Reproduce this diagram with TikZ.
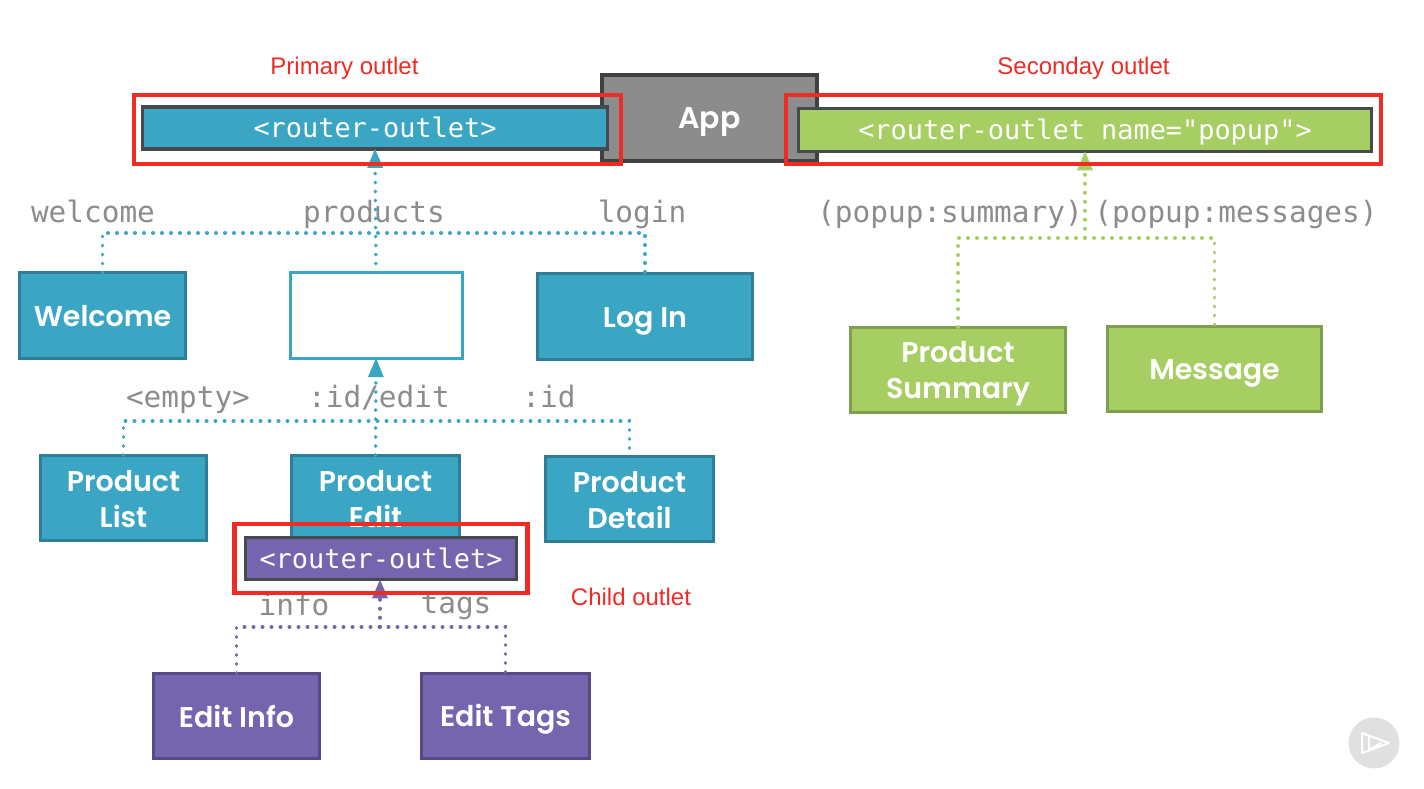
\documentclass[tikz,border=0pt]{standalone}
\usepackage{fontspec}
\usetikzlibrary{arrows}
\usetikzlibrary{positioning}
\newfontfamily\boxfont{Poppins}[UprightFont=* SemiBold]
\newfontfamily\codefont{DejaVu Sans Mono}
\newfontfamily\notefont{Liberation Sans}
\newcommand{\boxstrut}{\vrule width 0pt height 29pt depth 7pt\relax}
\newcommand{\twolines}[2]{\boxstrut #1\\#2\boxstrut}
\newcommand{\codestrut}{\vrule width 0pt height 26pt depth 7pt\relax}
\definecolor{tealfill}{HTML}{3AA6C4}
\definecolor{tealedge}{HTML}{2E7E98}
\definecolor{greenfill}{HTML}{A6CE63}
\definecolor{greenedge}{HTML}{7F9F4E}
\definecolor{purplefill}{HTML}{7465AE}
\definecolor{purpleedge}{HTML}{564A86}
\definecolor{outletedge}{HTML}{454A4E}
\definecolor{notered}{HTML}{EE2B24}
\definecolor{pathgray}{HTML}{8E8B8E}
\tikzset{
    node distance=100pt,
    every node/.append style={
        outer sep=0pt,
        inner sep=0pt
    },
    viewbox/.style={
        draw,
        line width=3pt,
        minimum height=85.5pt,
        minimum width=166.5pt,
        align=center,
        text=white,
        font=\boxfont\fontsize{28.5}{36}\selectfont
    },
    tealbox/.style={viewbox, fill=tealfill, draw=tealedge},
    greenbox/.style={viewbox, fill=greenfill, draw=greenedge, minimum width=214.5pt},
    purplebox/.style={viewbox, fill=purplefill, draw=purpleedge},
    outletbox/.style={
        draw=outletedge,
        line width=3.5pt,
        minimum height=42pt,
        text=white,
        font=\codefont\fontsize{26.9}{30}\selectfont,
        execute at begin node=\codestrut
    },
    pathlabel/.style={
        anchor=base,
        text=pathgray,
        font=\codefont\fontsize{29.4}{34}\selectfont
    },
    notelabel/.style={
        anchor=base,
        text=notered,
        font=\notefont\fontsize{24}{28}\selectfont
    },
    redframe/.style={
        draw=notered,
        line width=4.5pt
    },
    dotline/.style={
        line width=3.5pt,
        line cap=round,
        dash pattern=on 0.5pt off 8.5pt,
        >=triangle 45
    }
}

\begin{document}
\begin{tikzpicture}[x=1pt, y=-1pt]
    \useasboundingbox (0,0) rectangle (1424,788);

    % top row
    \node[draw=black!75, fill=black!45, line width=3.5pt, minimum width=215pt, minimum height=86pt,
        text=white, font=\boxfont\fontsize{30}{36}\selectfont] (app) at (709.5,118) {\boxstrut App};
    \node[outletbox, fill=tealfill, minimum width=465pt] (primary) at (375,128) {<router-outlet>};
    \node[outletbox, fill=greenfill, minimum width=573pt, minimum height=43pt] (secondary) at (1085,130) {<router-outlet name="popup">};

    % first level
    \node[tealbox] (welcome) at (102.5,315.5) {\boxstrut Welcome};
    \node[viewbox, fill=white, draw=tealfill, minimum width=172pt, right of=welcome, xshift=173.5pt] (products) {};
    \node[tealbox, minimum width=214.5pt, right of=products, xshift=169pt, yshift=-1pt] (login) {\boxstrut Log In};
    \node[greenbox] (summary) at (958,370) {\twolines{Product}{Summary}};
    \node[greenbox, right of=summary, xshift=156.5pt, yshift=1pt] (message) {\boxstrut Message};

    % second level
    \node[tealbox] (list) at (123.5,498) {\twolines{Product}{List}};
    \node[tealbox, minimum width=168pt, right of=list, xshift=152pt] (edit) {\twolines{Product}{Edit}};
    \node[tealbox, minimum width=168pt, right of=edit, xshift=154pt, yshift=-1pt] (detail) {\twolines{Product}{Detail}};
    \node[outletbox, fill=purplefill, minimum width=271pt] (child) at (381,558.5) {<router-outlet>};

    % third level
    \node[purplebox] (info) at (236.5,716) {\boxstrut Edit Info};
    \node[purplebox, minimum width=168pt, right of=info, xshift=169pt] (tags) {\boxstrut Edit Tags};

    % route names
    \node[pathlabel] (lwelcome) at (93,222) {welcome};
    \node[pathlabel] (lproducts) at (374,222) {products};
    \node[pathlabel] (llogin) at (642,222) {login};
    \node[pathlabel] (lempty) at (188,407) {<empty>};
    \node[pathlabel] (ledit) at (379,407) {:id/edit};
    \node[pathlabel] (ldetail) at (549,407) {:id};
    \node[pathlabel] (linfo) at (294,615) {info};
    \node[pathlabel] (ltags) at (456,613) {tags};
    \node[pathlabel] (lsummary) at (950,222) {(popup:summary)};
    \node[pathlabel] (lmessage) at (1236,222) {(popup:messages)};

    % connectors
    \coordinate (topjoin) at (375,233);
    \coordinate (midjoin) at (375,421);
    \coordinate (lowjoin) at (380,627);
    \coordinate (greenjoin) at (1085,238);

    \draw[dotline, tealfill] (welcome.north) |- (topjoin) -| (login.north);
    \draw[dotline, tealfill, ->] (products.north) -- (primary.south);
    \draw[dotline, tealfill] (list.north) |- (midjoin) -| (detail.north);
    \draw[dotline, tealfill, ->] (edit.north) -- (products.south);
    \draw[dotline, purplefill] (info.north) |- (lowjoin) -| (tags.north);
    \draw[dotline, purplefill, ->] (lowjoin) -- (lowjoin |- child.south);
    \draw[dotline, greenfill] (summary.north) |- (greenjoin) -| (message.north);
    \draw[dotline, greenfill, ->] (greenjoin) -- (greenjoin |- secondary.south);

    % notes
    \node[redframe, minimum width=487pt, minimum height=69pt] (primaryframe) at (377.5,129.5) {};
    \node[redframe, minimum width=595pt, minimum height=69pt] (secondaryframe) at (1083.5,129.5) {};
    \node[redframe, minimum width=293pt, minimum height=69pt] (childframe) at (381,558.5) {};
    \node[notelabel] (primarynote) at (344.5,74) {Primary outlet};
    \node[notelabel] (secondarynote) at (1083.5,74) {Seconday outlet};
    \node[notelabel] (childnote) at (631,605) {Child outlet};

    % player badge
    \fill[black!12] (1374,743) circle (25.5);
    \draw[white, line width=2pt, line join=round] (1362,733) -- (1389,743) -- (1362,753) -- cycle;
    \draw[white, line width=2pt, line join=round] (1369,736) -- (1369,750) -- (1381,743);
\end{tikzpicture}
\end{document}
